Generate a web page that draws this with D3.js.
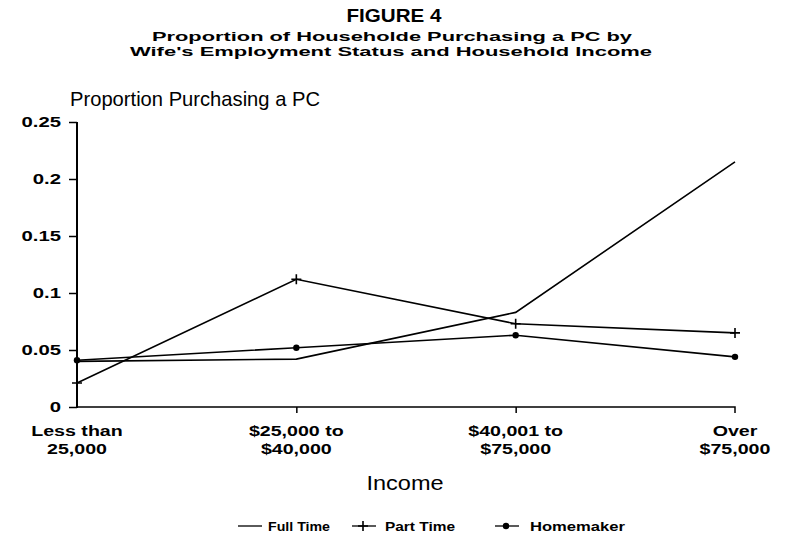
<!DOCTYPE html>
<html>
<head>
<meta charset="utf-8">
<script src="https://cdn.jsdelivr.net/npm/d3@7"></script>
<style>
  body { margin: 0; background: #fff; }
  text { font-family: "Liberation Sans", Arial, sans-serif; fill: #000; }
</style>
</head>
<body>
<svg id="chart" width="787" height="552"></svg>
<script>
/* chart data */
var categories = ["Less than|25,000", "$25,000 to|$40,000", "$40,001 to|$75,000", "Over|$75,000"];
var fullTime = [0.040, 0.042, 0.083, 0.215];
var partTime = [0.021, 0.112, 0.073, 0.065];
var homemaker = [0.041, 0.052, 0.063, 0.044];
var seriesNames = ["Full Time", "Part Time", "Homemaker"];
var yTicks = [0, 0.05, 0.1, 0.15, 0.2, 0.25];
var yTickLabels = ["0", "0.05", "0.1", "0.15", "0.2", "0.25"];

var svg = d3.select("#chart");

let x = d3.scalePoint()
    .domain(categories)
    .range([77, 735]);
let y = d3.scaleLinear()
    .domain([0, 0.25])
    .range([407, 122]);

// widen text like the old plotter font
function stretch(sel, k) {
    sel.each(function () {
        let w = this.getComputedTextLength();
        d3.select(this).attr("textLength", w * k).attr("lengthAdjust", "spacingAndGlyphs");
    });
}

// titles
svg.append("text")
    .attr("x", 394).attr("y", 22)
    .attr("text-anchor", "middle")
    .attr("textLength", 95).attr("lengthAdjust", "spacingAndGlyphs")
    .style("font-size", "19px")
    .style("font-weight", "bold")
    .text("FIGURE 4");
svg.append("text")
    .attr("x", 152).attr("y", 41)
    .attr("textLength", 480).attr("lengthAdjust", "spacingAndGlyphs")
    .style("font-size", "12px").style("font-weight", "bold")
    .text("Proportion of Householde Purchasing a PC by");
svg.append("text")
    .attr("x", 130).attr("y", 56)
    .attr("textLength", 522).attr("lengthAdjust", "spacingAndGlyphs")
    .style("font-size", "12px").style("font-weight", "bold")
    .text("Wife's Employment Status and Household Income");
svg.append("text")
    .attr("x", 70).attr("y", 106)
    .attr("textLength", 250).attr("lengthAdjust", "spacingAndGlyphs")
    .style("font-size", "21px")
    .text("Proportion Purchasing a PC");

// y axis
let yAxis = d3.axisLeft(y)
    .tickValues(yTicks)
    .tickFormat("")
    .tickSize(8);
let gy = svg.append("g")
    .attr("transform", "translate(77,0)")
    .call(yAxis);
gy.select(".domain").attr("stroke", "#000").attr("stroke-width", 2)
    .attr("d", "M0,122V408");
gy.selectAll(".tick line").attr("stroke-width", 1.5);

// right-aligned by hand, since textLength + end anchor misplaces the text
svg.append("g").selectAll("text")
    .data(yTicks)
    .enter().append("text")
    .attr("y", function (d) { return y(d) + 5; })
    .style("font-size", "14px").style("font-weight", "bold")
    .text(function (d, i) { return yTickLabels[i]; })
    .each(function () {
        let w = this.getComputedTextLength() * 1.45;
        d3.select(this)
            .attr("x", 61 - w)
            .attr("textLength", w).attr("lengthAdjust", "spacingAndGlyphs");
    });

// x axis
let xAxis = d3.axisBottom(x)
    .tickSize(6)
    .tickFormat("");
let gx = svg.append("g")
    .attr("transform", "translate(0,407)")
    .call(xAxis);
gx.select(".domain").attr("stroke-width", 1.5).attr("d", "M77,0H735V6");
gx.selectAll(".tick line").attr("stroke-width", 1.5);
gx.selectAll(".tick").filter(function (d, i) { return i === 0 || i === 3; }).remove();

// category labels, two rows each
let rows = [];
categories.forEach(function (c) {
    c.split("|").forEach(function (p, i) { rows.push({ cat: c, row: i, label: p }); });
});
svg.append("g").selectAll("text")
    .data(rows)
    .enter().append("text")
    .attr("x", function (d) { return x(d.cat); })
    .attr("y", function (d) { return 436 + d.row * 18; })
    .attr("text-anchor", "middle")
    .style("font-size", "14px").style("font-weight", "bold")
    .text(function (d) { return d.label; })
    .call(stretch, 1.4);

svg.append("text")
    .attr("x", 405).attr("y", 490)
    .attr("text-anchor", "middle")
    .style("font-size", "21px")
    .text("Income")
    .call(stretch, 1.12);

// lines
let line = d3.line()
    .x(function (d, i) { return x(categories[i]); })
    .y(function (d) { return y(d); });

let allSeries = [fullTime, partTime, homemaker];
svg.append("g").selectAll("path")
    .data(allSeries)
    .enter().append("path")
    .attr("d", line)
    .attr("fill", "none")
    .attr("stroke", "#000")
    .attr("stroke-width", 1.6);

// markers
function plus(g, cx, cy) {
    g.append("path")
        .attr("d", "M" + (cx - 5) + "," + cy + "H" + (cx + 5) + "M" + cx + "," + (cy - 5) + "V" + (cy + 5))
        .attr("stroke", "#000").attr("stroke-width", 1.6);
}
function dot(g, cx, cy) {
    g.append("circle").attr("cx", cx).attr("cy", cy).attr("r", 3.2).attr("fill", "#000");
}
let mg = svg.append("g");
partTime.forEach(function (d, i) { plus(mg, x(categories[i]), y(d)); });
homemaker.forEach(function (d, i) { dot(mg, x(categories[i]), y(d)); });

// legend
let legendX = [238, 352, 495];
let legendTextX = [268, 385, 530];
let legendW = [62, 70, 95];
let lg = svg.append("g");
seriesNames.forEach(function (name, i) {
    lg.append("line")
        .attr("x1", legendX[i]).attr("x2", legendX[i] + 24)
        .attr("y1", 526).attr("y2", 526)
        .attr("stroke", "#000").attr("stroke-width", 1.3);
    if (i === 1) plus(lg, legendX[i] + 11, 526);
    if (i === 2) dot(lg, legendX[i] + 11, 526);
    lg.append("text")
        .attr("x", legendTextX[i]).attr("y", 531)
        .attr("textLength", legendW[i]).attr("lengthAdjust", "spacingAndGlyphs")
        .style("font-size", "12px").style("font-weight", "bold")
        .text(name);
});
</script>
</body>
</html>
